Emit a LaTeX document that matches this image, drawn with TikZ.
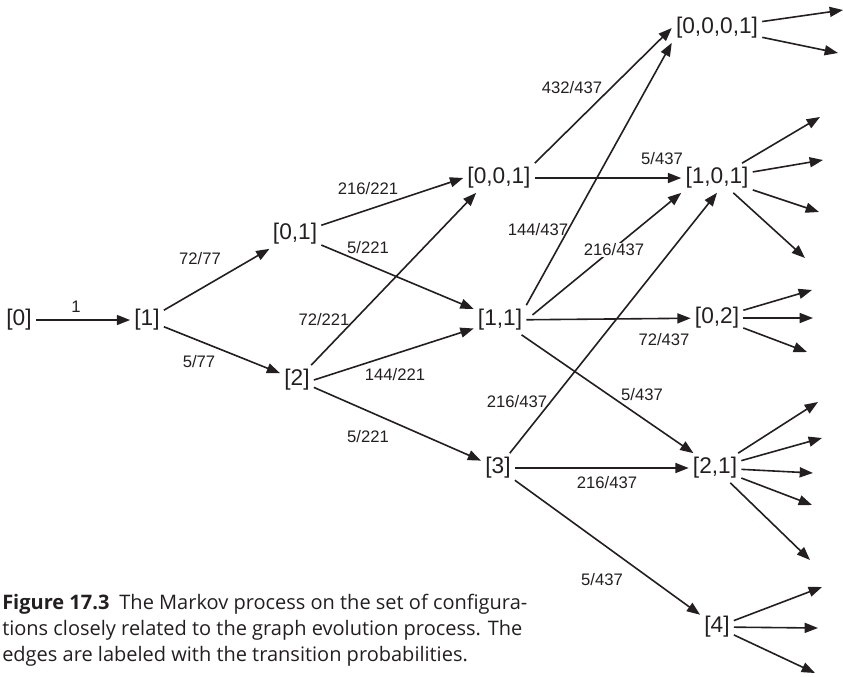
\documentclass[tikz,border=0pt]{standalone}
\usepackage{fontspec}
\setmainfont{Liberation Sans}
\newfontfamily\capfont{Open Sans}
\usetikzlibrary{arrows.meta}
\definecolor{ink}{RGB}{35,31,32}
\tikzset{
  cfg/.style={rectangle,inner sep=3pt,text=ink,font=\fontsize{17}{20}\selectfont},
  prob/.style={inner sep=1pt,text=ink,font=\fontsize{12.5}{14}\selectfont},
  flow/.style={-{Triangle[length=10pt,width=7.5pt]},line width=1.2pt,draw=ink},
}

\begin{document}
\begin{tikzpicture}[x=0.75pt,y=-0.75pt]
  \useasboundingbox (0,0) rectangle (843,676);
  % configurations, column by column
  \node[cfg] (n0) at (19,320) {[0]};
  \node[cfg] (n1) at (147,320) {[1]};
  \node[cfg] (n01) at (295,234) {[0,1]};
  \node[cfg] (n2) at (297,380) {[2]};
  \node[cfg] (n001) at (499,178) {[0,0,1]};
  \node[cfg] (n11) at (500,320) {[1,1]};
  \node[cfg] (n3) at (498,468) {[3]};
  \node[cfg] (n0001) at (717,28) {[0,0,0,1]};
  \node[cfg] (n101) at (717,178) {[1,0,1]};
  \node[cfg] (n02) at (717,318) {[0,2]};
  \node[cfg] (n21) at (715,468) {[2,1]};
  \node[cfg] (n4) at (717,627) {[4]};
  % transitions
  \draw[flow] (n0) -- (n1);
  \draw[flow] (n1) -- (n01);
  \draw[flow] (n1) -- (n2);
  \draw[flow] (n01) -- (n001.west);
  \draw[flow] (n01) -- (n11);
  \draw[flow] (n2) -- (n001.213);
  \draw[flow] (n2.east) -- (n11);
  \draw[flow] (n2) -- (n3);
  \draw[flow] (n001.north east) -- (n0001.west);
  \draw[flow] (n001) -- (n101);
  \draw[flow] (n11.north east) -- (n0001.south west);
  \draw[flow,shorten <=6pt] (n11.east) -- (n101.south west);
  \draw[flow] (n11) -- (n02);
  \draw[flow] (n11) -- (n21);
  \draw[flow] (n3) -- (n101.south);
  \draw[flow] (n3) -- (n21);
  \draw[flow] (n3) -- (n4);
  % probabilities
  \node[prob] (p01) at (76,307) {1};
  \node[prob] (p12) at (200,259) {72/77};
  \node[prob] (p13) at (199,362) {5/77};
  \node[prob] (p21) at (368,189) {216/221};
  \node[prob] (p22) at (368,248) {5/221};
  \node[prob] (p23) at (324,320) {72/221};
  \node[prob] (p24) at (395,375) {144/221};
  \node[prob] (p25) at (368,437) {5/221};
  \node[prob] (p31) at (572,88) {432/437};
  \node[prob] (p32) at (662,159) {5/437};
  \node[prob] (p33) at (538,230) {144/437};
  \node[prob,fill=white] (p34) at (614,250) {216/437};
  \node[prob] (p35) at (664,340) {72/437};
  \node[prob] (p36) at (517,402) {216/437};
  \node[prob] (p37) at (642,395) {5/437};
  \node[prob] (p38) at (607,483) {216/437};
  \node[prob] (p39) at (602,580) {5/437};
  % branches leaving the last column
  \foreach \src/\tx/\ty [count=\k] in {n0001/843/10,n0001/838/53,
      n101/820/117,n101/823/160,n101/819/212,n101/805/258,
      n02/812/290,n02/813/318,n02/807/352,
      n21/818/402,n21/822/438,n21/813/473,n21/812/505,n21/810/560,
      n4/822/587,n4/818/628,n4/815/673} {
    \coordinate (out\k) at (\tx,\ty);
    \draw[flow] (\src) -- (out\k);
  }
  \node[anchor=north west,inner sep=0pt,align=left,text=ink,
    font=\capfont\fontsize{15}{19.4}\selectfont] (caption) at (2,594)
    {\textbf{Figure 17.3}\enspace The Markov process on the set of configura-\\
     tions closely related to the graph evolution process. The\\
     edges are labeled with the transition probabilities.};
\end{tikzpicture}
\end{document}
